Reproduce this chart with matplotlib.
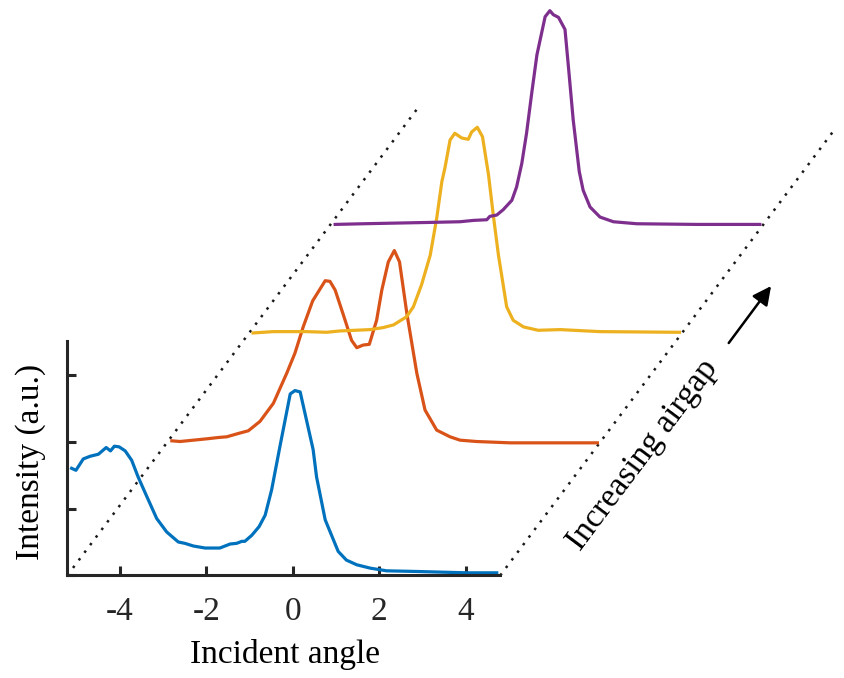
import matplotlib
matplotlib.use("Agg")
import matplotlib.pyplot as plt
import numpy as np

plt.rcParams['font.family'] = ['Liberation Serif', 'DejaVu Serif']

# ---------------- data (angle in each curve's own frame, intensity a.u.) ----------
blue_angle = [-5.12, -5.02, -4.85, -4.69, -4.50, -4.32, -4.22, -4.13, -4.02, -3.88,
              -3.73, -3.58, -3.38, -3.15, -2.92, -2.65, -2.50, -2.30, -2.03, -1.69,
              -1.45, -1.30, -1.18, -1.11, -0.95, -0.78, -0.64, -0.49, -0.30, -0.06,
              0.05, 0.17, 0.47, 0.55, 0.75, 1.05, 1.24, 1.48, 1.79, 2.17, 2.87, 4.03, 4.72]
blue_int = [1.60, 1.57, 1.74, 1.78, 1.81, 1.91, 1.86, 1.93, 1.92, 1.86,
            1.72, 1.47, 1.18, 0.85, 0.65, 0.50, 0.48, 0.44, 0.41, 0.41,
            0.47, 0.48, 0.51, 0.51, 0.60, 0.73, 0.90, 1.28, 1.92, 2.71,
            2.76, 2.74, 1.88, 1.47, 0.83, 0.36, 0.23, 0.16, 0.11, 0.07, 0.06, 0.04, 0.04]

red_angle = [-5.12, -4.93, -4.62, -4.31, -4.04, -3.85, -3.58, -3.35, -3.08, -2.77,
             -2.46, -2.27, -2.08, -1.86, -1.57, -1.46, -1.34, -1.15, -0.96, -0.84,
             -0.69, -0.55, -0.38, -0.26, -0.11, 0.03, 0.15, 0.32, 0.55, 0.74,
             1.01, 1.32, 1.55, 1.93, 2.71, 4.64, 4.73]
red_int = [0.05, 0.04, 0.06, 0.08, 0.10, 0.11, 0.16, 0.20, 0.34, 0.61,
           1.06, 1.36, 1.75, 2.14, 2.44, 2.43, 2.30, 1.93, 1.55, 1.44,
           1.48, 1.49, 1.85, 2.30, 2.72, 2.89, 2.72, 1.95, 1.06, 0.51,
           0.21, 0.11, 0.06, 0.04, 0.02, 0.02, 0.02]

yellow_angle = [-5.12, -4.65, -3.88, -3.42, -3.11, -2.41, -2.11, -1.87, -1.72, -1.57,
                -1.41, -1.22, -1.02, -0.87, -0.75, -0.68, -0.56, -0.45, -0.29, -0.14,
                -0.06, 0.07, 0.19, 0.33, 0.44, 0.56, 0.75, 0.90, 1.14, 1.48,
                1.99, 2.91, 4.75]
yellow_int = [0.04, 0.06, 0.06, 0.05, 0.07, 0.09, 0.12, 0.16, 0.22, 0.28,
              0.43, 0.76, 1.20, 1.75, 2.30, 2.50, 2.92, 3.02, 2.95, 2.93,
              3.04, 3.11, 2.97, 2.40, 1.80, 1.20, 0.43, 0.23, 0.13, 0.08,
              0.09, 0.06, 0.05]

purple_angle = [-5.12, -4.47, -3.70, -2.92, -2.23, -1.92, -1.61, -1.54, -1.38, -1.23,
                -1.03, -0.92, -0.80, -0.69, -0.57, -0.45, -0.36, -0.26, -0.15, -0.07,
                0.05, 0.20, 0.28, 0.39, 0.53, 0.62, 0.78, 1.01, 1.32, 1.86,
                3.25, 4.71]
purple_int = [0.04, 0.05, 0.06, 0.07, 0.08, 0.10, 0.11, 0.16, 0.18, 0.26,
              0.40, 0.60, 0.95, 1.40, 2.00, 2.57, 2.84, 3.14, 3.23, 3.17,
              3.13, 2.95, 2.39, 1.60, 0.83, 0.55, 0.30, 0.15, 0.08, 0.05,
              0.04, 0.04]

# waterfall offsets (increasing airgap)
x_offsets = [0.0, 2.32, 4.20, 6.10]
y_offsets = [0.0, 1.96, 3.58, 5.20]
colors = ['#0072BD', '#D95319', '#EDB120', '#7E2F8E']

xticks = [-4, -2, 0, 2, 4]
yticks = [0, 1, 2, 3]
xlim = (-5.22, 4.8)
ylim = (0, 3.5)
guide_slope = 0.86
left_guide_len = 8.15
right_guide_len = 7.76

# ---------------- figure -------------------
fig = plt.figure(figsize=(8.45, 6.78), dpi=100)
ax = fig.add_axes([0.07964, 0.15118, 0.5123, 0.34587])

curves = [(blue_angle, blue_int), (red_angle, red_int),
          (yellow_angle, yellow_int), (purple_angle, purple_int)]

# guide dotted lines
dots = (0, (1, 2.8))
gx = np.array([xlim[0], xlim[0] + left_guide_len])
ax.plot(gx, guide_slope * (gx - xlim[0]), color='#1a1a1a', lw=1.8,
        linestyle=dots, clip_on=False, zorder=1)
gx2 = np.array([xlim[1], xlim[1] + right_guide_len])
ax.plot(gx2, guide_slope * (gx2 - xlim[1]), color='#1a1a1a', lw=1.8,
        linestyle=dots, clip_on=False, zorder=1)

for i in range(len(curves) - 1, -1, -1):
    a, v = curves[i]
    ax.plot(np.array(a) + x_offsets[i], np.array(v) + y_offsets[i],
            color=colors[i], lw=2.3, clip_on=False, zorder=2 + i)

ax.set_xlim(*xlim)
ax.set_ylim(*ylim)
ax.set_xticks(xticks)
ax.set_xticklabels([str(t) for t in xticks])
ax.set_yticks(yticks)
ax.set_yticklabels([])
ax.spines['top'].set_visible(False)
ax.spines['right'].set_visible(False)
for s in ('left', 'bottom'):
    ax.spines[s].set_linewidth(2.2)
    ax.spines[s].set_color('#262626')
ax.tick_params(axis='both', direction='in', length=6.5, width=2.2,
               color='#262626', labelsize=24, labelcolor='#262626')
ax.tick_params(axis='x', pad=15)
ax.patch.set_visible(False)

ax.set_xlabel('Incident angle', fontsize=24, color='black', va='center')
ax.xaxis.set_label_coords(0.503, -0.335)
ax.set_ylabel('Intensity (a.u.)', fontsize=24, color='black', va='center')
ax.yaxis.set_label_coords(-0.085, 0.484)

# arrow and annotation
ax.annotate('', xy=(11.07, 4.32), xytext=(10.09, 3.47),
            arrowprops=dict(arrowstyle='-|>', color='black', lw=1.8,
                            mutation_scale=28, shrinkA=0, shrinkB=0),
            annotation_clip=False)
ax.text(8.11, 1.80, 'Increasing airgap', fontsize=24, rotation=53.1,
        rotation_mode='anchor', ha='center', va='center', color='black',
        clip_on=False)

fig.savefig('out.png', dpi=100)
